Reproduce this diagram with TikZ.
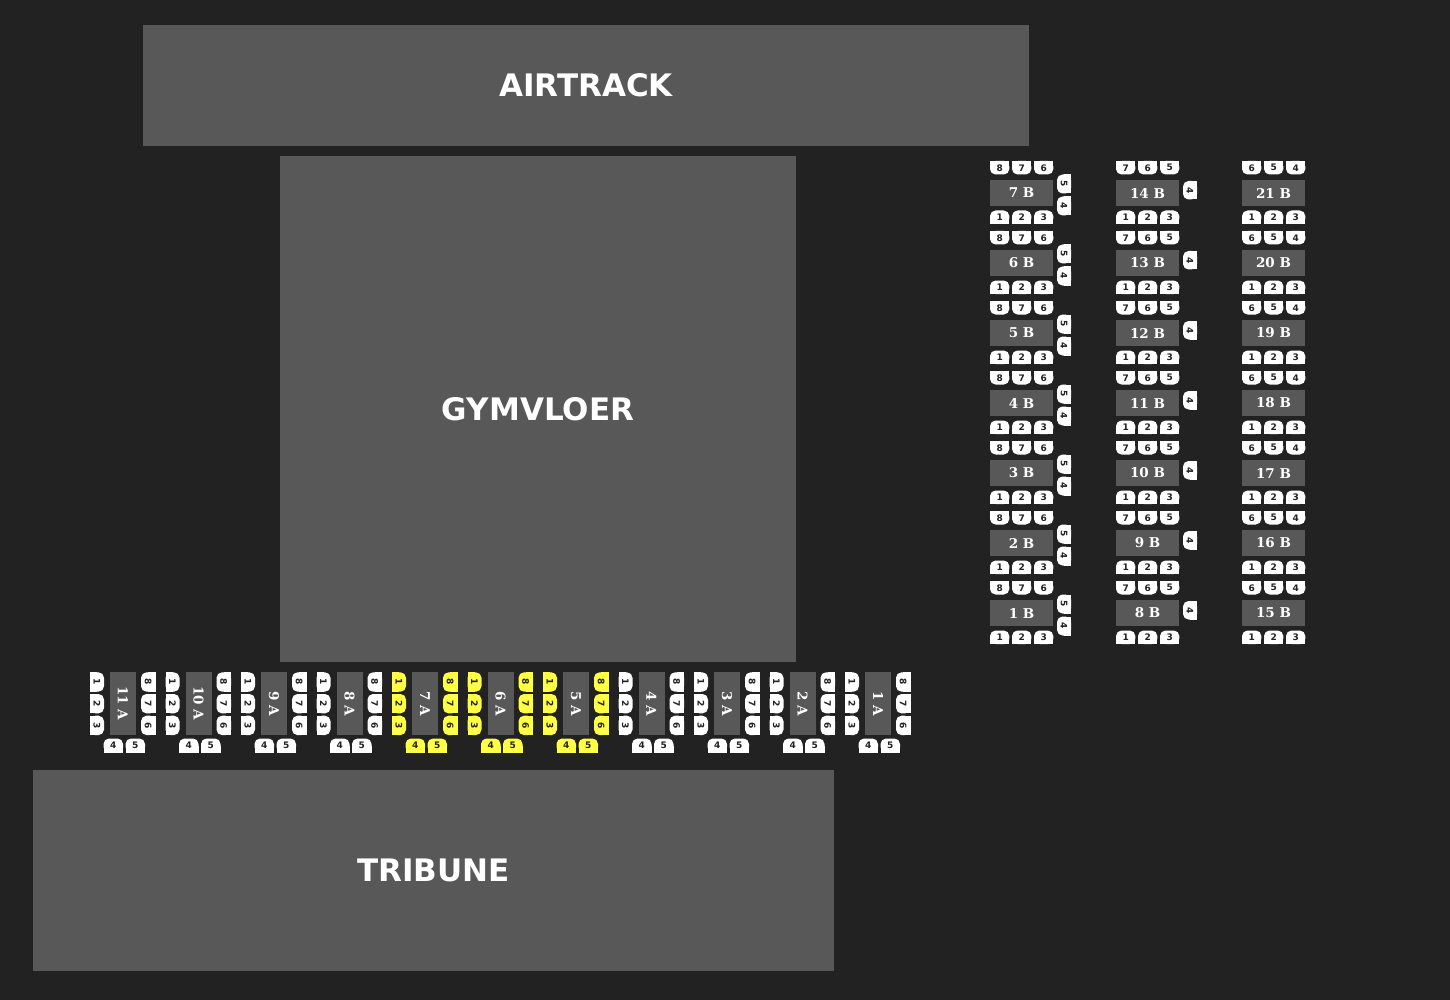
\documentclass[tikz,border=0pt]{standalone}
\usepackage{fontspec}
\setmainfont{DejaVu Sans}
\newfontfamily\serifb{DejaVu Serif}
\definecolor{bg}{HTML}{222222}
\definecolor{zone}{HTML}{585858}
\definecolor{seatw}{HTML}{FFFFFF}
\definecolor{seaty}{HTML}{FFFF44}
\definecolor{ink}{HTML}{222222}
\tikzset{
  seatnum/.style={font=\bfseries\fontsize{9}{10}\selectfont, text=ink, inner sep=0pt},
  tablebox/.style={fill=zone, text=white, font=\serifb\bfseries\fontsize{13.5}{15}\selectfont, inner sep=0pt},
  zonebox/.style={fill=zone, text=white, font=\bfseries\fontsize{31}{36}\selectfont, inner sep=0pt},
}
% #1 name, #2 x1, #3 y1, #4 x2, #5 y2, #6 rounded side (t,b,l,r), #7 label, #8 rotation, #9 colour
\newcommand{\zitje}[9]{%
  \fill[#9,rounded corners=5.5pt] (#2,#3) rectangle (#4,#5);
  \pgfmathsetmacro{\zmx}{(#2+#4)/2}%
  \pgfmathsetmacro{\zmy}{(#3+#5)/2}%
  \if#6t\fill[#9] (#2,\zmy) rectangle (#4,#5);\fi
  \if#6b\fill[#9] (#2,#3) rectangle (#4,\zmy);\fi
  \if#6l\fill[#9] (\zmx,#3) rectangle (#4,#5);\fi
  \if#6r\fill[#9] (#2,#3) rectangle (\zmx,#5);\fi
  \node[seatnum,rotate=#8] (#1) at (\zmx,\zmy) {#7};
}
\begin{document}
\begin{tikzpicture}[x=1pt,y=-1pt]
\useasboundingbox (0,0) rectangle (1450,1000);
\fill[bg] (0,0) rectangle (1450,1000);

% zones
\node[zonebox,minimum width=886pt,minimum height=121pt] (airtrack) at (586,85.5) {AIRTRACK};
\node[zonebox,minimum width=516pt,minimum height=506pt] (gym) at (538,409) {GYMVLOER};
\node[zonebox,minimum width=801pt,minimum height=201pt] (tribune) at (433.5,870.5) {TRIBUNE};

% column 1 (7B .. 1B)
\foreach \k in {0,...,6}{
  \pgfmathsetmacro{\ty}{180+70*\k}
  \pgfmathtruncatemacro{\tn}{7-\k}
  \node[tablebox,minimum width=63pt,minimum height=26pt] (tB\tn) at (1021.5,\ty+13) {\tn\ B};
  \foreach \j/\zl in {0/8,1/7,2/6}{
    \zitje{sB\tn-\zl}{990+22*\j}{\ty-19}{1009.3+22*\j}{\ty-5.5}{b}{\zl}{0}{seatw}
  }
  \foreach \j/\zl in {0/1,1/2,2/3}{
    \zitje{sB\tn-\zl}{990+22*\j}{\ty+30.5}{1009.3+22*\j}{\ty+44}{t}{\zl}{0}{seatw}
  }
  \zitje{sB\tn-5}{1057}{\ty-5.5}{1071}{\ty+13.5}{l}{5}{-90}{seatw}
  \zitje{sB\tn-4}{1057}{\ty+16.5}{1071}{\ty+35.5}{l}{4}{-90}{seatw}
}

% column 2 (14B .. 8B)
\foreach \k in {0,...,6}{
  \pgfmathsetmacro{\ty}{180+70*\k}
  \pgfmathtruncatemacro{\tn}{14-\k}
  \node[tablebox,minimum width=63pt,minimum height=26pt] (tB\tn) at (1147.5,\ty+13) {\tn\ B};
  \foreach \j/\zl in {0/7,1/6,2/5}{
    \zitje{sB\tn-\zl}{1116+22*\j}{\ty-19}{1135.3+22*\j}{\ty-5.5}{b}{\zl}{0}{seatw}
  }
  \foreach \j/\zl in {0/1,1/2,2/3}{
    \zitje{sB\tn-\zl}{1116+22*\j}{\ty+30.5}{1135.3+22*\j}{\ty+44}{t}{\zl}{0}{seatw}
  }
  \zitje{sB\tn-4}{1183}{\ty+1}{1197}{\ty+19.5}{l}{4}{-90}{seatw}
}

% column 3 (21B .. 15B)
\foreach \k in {0,...,6}{
  \pgfmathsetmacro{\ty}{180+70*\k}
  \pgfmathtruncatemacro{\tn}{21-\k}
  \node[tablebox,minimum width=63pt,minimum height=26pt] (tB\tn) at (1273.5,\ty+13) {\tn\ B};
  \foreach \j/\zl in {0/6,1/5,2/4}{
    \zitje{sB\tn-\zl}{1242+22*\j}{\ty-19}{1261.3+22*\j}{\ty-5.5}{b}{\zl}{0}{seatw}
  }
  \foreach \j/\zl in {0/1,1/2,2/3}{
    \zitje{sB\tn-\zl}{1242+22*\j}{\ty+30.5}{1261.3+22*\j}{\ty+44}{t}{\zl}{0}{seatw}
  }
}

% row A (11A .. 1A)
\foreach \i in {0,...,10}{
  \pgfmathsetmacro{\tx}{110+75.5*\i}
  \pgfmathtruncatemacro{\tn}{11-\i}
  \ifnum\i>3 \ifnum\i<7 \def\zcol{seaty}\else\def\zcol{seatw}\fi\else\def\zcol{seatw}\fi
  \node[tablebox,rotate=-90,minimum width=62.5pt,minimum height=26pt] (tA\tn) at (\tx+13,703.3) {\tn\ A};
  \foreach \j in {0,1,2}{
    \pgfmathsetmacro{\sy}{672.3+21.7*\j}
    \pgfmathtruncatemacro{\zl}{\j+1}
    \pgfmathtruncatemacro{\zr}{8-\j}
    \zitje{sA\tn-\zl}{\tx-20}{\sy}{\tx-6}{\sy+19.4}{r}{\zl}{-90}{\zcol}
    \zitje{sA\tn-\zr}{\tx+31}{\sy}{\tx+45.5}{\sy+19.4}{l}{\zr}{-90}{\zcol}
  }
  \zitje{sA\tn-4}{\tx-6.5}{738.5}{\tx+13}{752.5}{t}{4}{0}{\zcol}
  \zitje{sA\tn-5}{\tx+15.5}{738.5}{\tx+35}{752.5}{t}{5}{0}{\zcol}
}
\end{tikzpicture}
\end{document}
